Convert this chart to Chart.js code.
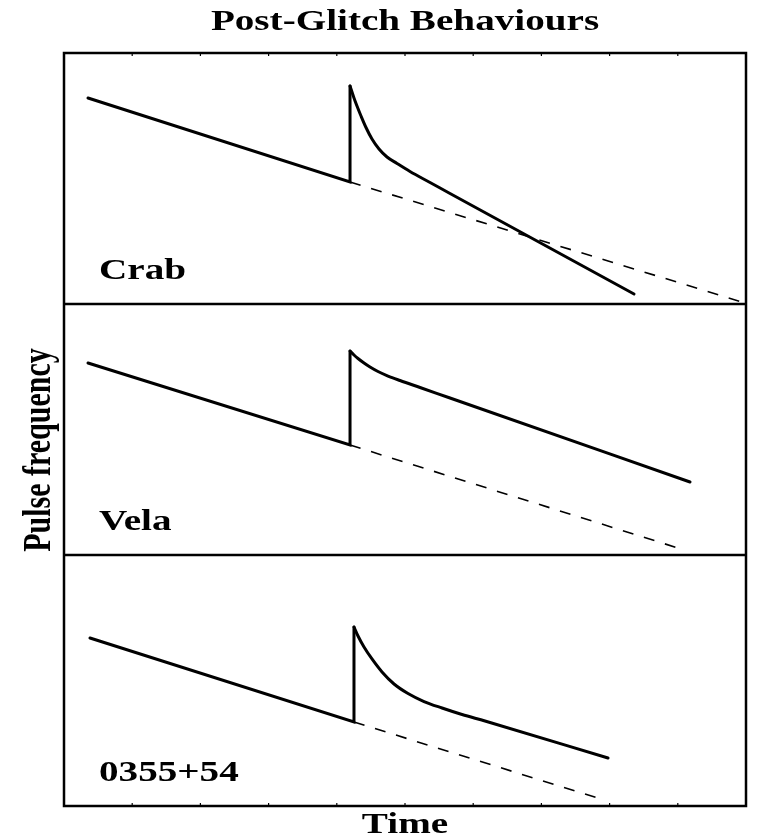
<!DOCTYPE html>
<html>
<head>
<meta charset="utf-8">
<title>Post-Glitch Behaviours</title>
<script src="https://cdn.jsdelivr.net/npm/chart.js@4/dist/chart.umd.min.js"></script>
<style>
  html, body { margin: 0; padding: 0; background: #ffffff; }
  #wrap { width: 757px; height: 840px; }
</style>
</head>
<body>
<div id="wrap"><canvas id="glitch" width="757" height="840"></canvas></div>
<script>
// Panel names (top to bottom)
const panelNames = ['Crab', 'Vela', '0355+54'];

// Time ticks along the frame
const timeTicks = [1, 2, 3, 4, 5, 6, 7, 8, 9];

// Crab: steady spin-down, glitch, recovery, and extrapolated pre-glitch trend
const crabSpinDownX = [0.352, 4.194, 4.194];
const crabSpinDownY = [8.207, 4.861, 8.685];
const crabRecoveryX = [4.194, 4.252, 4.296, 4.355, 4.428, 4.516, 4.619, 4.736, 4.883, 5.073, 5.367, 5.660, 8.358];
const crabRecoveryY = [8.685, 8.207, 7.888, 7.490, 7.032, 6.574, 6.175, 5.857, 5.598, 5.279, 4.841, 4.402, 0.398];
const crabTrendX = [4.194, 9.941];
const crabTrendY = [4.861, 0.080];

// Vela
const velaSpinDownX = [0.352, 4.194, 4.194];
const velaSpinDownY = [7.649, 4.382, 8.127];
const velaRecoveryX = [4.194, 4.252, 4.311, 4.399, 4.487, 4.604, 4.751, 4.927, 5.220, 5.660, 9.179];
const velaRecoveryY = [8.127, 7.968, 7.829, 7.649, 7.490, 7.311, 7.131, 6.952, 6.673, 6.255, 2.908];
const velaTrendX = [4.194, 9.003];
const velaTrendY = [4.382, 0.279];

// PSR 0355+54
const psrSpinDownX = [0.381, 4.252, 4.252];
const psrSpinDownY = [6.693, 3.347, 7.131];
const psrRecoveryX = [4.252, 4.311, 4.399, 4.516, 4.663, 4.839, 5.044, 5.279, 5.543, 5.836, 6.173, 7.977];
const psrRecoveryY = [7.131, 6.773, 6.335, 5.857, 5.339, 4.861, 4.482, 4.163, 3.904, 3.645, 3.386, 1.912];
const psrTrendX = [4.252, 7.918];
const psrTrendY = [3.347, 0.239];

const toPoints = (xs, ys) => xs.map((x, i) => ({ x: x, y: ys[i] }));

const INK = '#000000';
const SERIF = '"Liberation Serif", "Times New Roman", "DejaVu Serif", serif';
const STRETCH = 1.35;

function solidLine(xs, ys, axis, smooth) {
  return {
    data: toPoints(xs, ys),
    yAxisID: axis,
    borderColor: INK,
    borderWidth: 3,
    borderCapStyle: 'round',
    borderJoinStyle: 'miter',
    pointRadius: 0,
    fill: false,
    tension: smooth ? 0.4 : 0,
    cubicInterpolationMode: smooth ? 'monotone' : 'default'
  };
}

function dashedLine(xs, ys, axis) {
  return {
    data: toPoints(xs, ys),
    yAxisID: axis,
    borderColor: INK,
    borderWidth: 1.6,
    borderDash: [11, 11],
    pointRadius: 0,
    fill: false,
    tension: 0
  };
}

const panelAxis = {
  type: 'linear',
  position: 'left',
  stack: 'panels',
  stackWeight: 1,
  min: 0,
  max: 10,
  display: true,
  ticks: { display: false },
  grid: { display: false, drawTicks: false },
  border: { display: false }
};

const panelAxisIds = ['yCrab', 'yVela', 'yPsr'];

// Frame, panel dividers and small inward time ticks
const framePlugin = {
  id: 'panelFrame',
  afterDatasetsDraw(chart) {
    const ctx = chart.ctx;
    const a = chart.chartArea;
    const xs = chart.scales.x;
    ctx.save();
    ctx.strokeStyle = INK;
    ctx.lineWidth = 2.5;
    ctx.strokeRect(a.left, a.top, a.right - a.left, a.bottom - a.top);
    panelAxisIds.slice(1).forEach(id => {
      const s = chart.scales[id];
      const yt = s.getPixelForValue(s.max);
      ctx.beginPath();
      ctx.moveTo(a.left, yt);
      ctx.lineTo(a.right, yt);
      ctx.stroke();
    });
    ctx.lineWidth = 1.2;
    timeTicks.forEach(t => {
      const px = xs.getPixelForValue(t);
      ctx.beginPath();
      ctx.moveTo(px, a.top);
      ctx.lineTo(px, a.top + 3);
      ctx.moveTo(px, a.bottom);
      ctx.lineTo(px, a.bottom - 3);
      ctx.stroke();
    });
    ctx.restore();
  }
};

// Wide bold serif lettering for the title, axis names and panel names
const labelPlugin = {
  id: 'panelLabels',
  afterDraw(chart) {
    const ctx = chart.ctx;
    const a = chart.chartArea;
    const font = 'bold 29px ' + SERIF;

    function wide(text, x, y, align) {
      ctx.save();
      ctx.translate(x, y);
      ctx.scale(STRETCH, 1);
      ctx.font = font;
      ctx.fillStyle = INK;
      ctx.textAlign = align;
      ctx.textBaseline = 'alphabetic';
      ctx.fillText(text, 0, 0);
      ctx.restore();
    }

    const cx = (a.left + a.right) / 2;
    wide('Post-Glitch Behaviours', cx, 30, 'center');
    wide('Time', cx, 833, 'center');

    panelAxisIds.forEach((id, i) => {
      const s = chart.scales[id];
      const base = s.getPixelForValue(s.min) - 25;
      wide(panelNames[i], a.left + 35, base, 'left');
    });

    // vertical axis name, reading bottom to top
    ctx.save();
    ctx.translate(40, 450);
    ctx.rotate(-Math.PI / 2);
    ctx.scale(1, STRETCH);
    ctx.font = 'bold 30px ' + SERIF;
    ctx.fillStyle = INK;
    ctx.textAlign = 'center';
    ctx.textBaseline = 'middle';
    ctx.fillText('Pulse frequency', 0, 0);
    ctx.restore();
  }
};

new Chart(document.getElementById('glitch'), {
  type: 'line',
  data: {
    datasets: [
      solidLine(crabSpinDownX, crabSpinDownY, 'yCrab', false),
      solidLine(crabRecoveryX, crabRecoveryY, 'yCrab', true),
      dashedLine(crabTrendX, crabTrendY, 'yCrab'),
      solidLine(velaSpinDownX, velaSpinDownY, 'yVela', false),
      solidLine(velaRecoveryX, velaRecoveryY, 'yVela', true),
      dashedLine(velaTrendX, velaTrendY, 'yVela'),
      solidLine(psrSpinDownX, psrSpinDownY, 'yPsr', false),
      solidLine(psrRecoveryX, psrRecoveryY, 'yPsr', true),
      dashedLine(psrTrendX, psrTrendY, 'yPsr')
    ]
  },
  options: {
    responsive: false,
    animation: false,
    events: [],
    layout: { padding: { left: 64, right: 11, top: 53, bottom: 34 } },
    plugins: {
      legend: { display: false },
      title: { display: false },
      tooltip: { enabled: false }
    },
    scales: {
      x: {
        type: 'linear',
        min: 0,
        max: 10,
        display: true,
        ticks: { display: false },
        grid: { display: false, drawTicks: false },
        border: { display: false }
      },
      // stacked panel axes are laid out bottom-up, so the lowest panel comes first
      yPsr: Object.assign({}, panelAxis),
      yVela: Object.assign({}, panelAxis),
      yCrab: Object.assign({}, panelAxis)
    }
  },
  plugins: [framePlugin, labelPlugin]
});
</script>
</body>
</html>
